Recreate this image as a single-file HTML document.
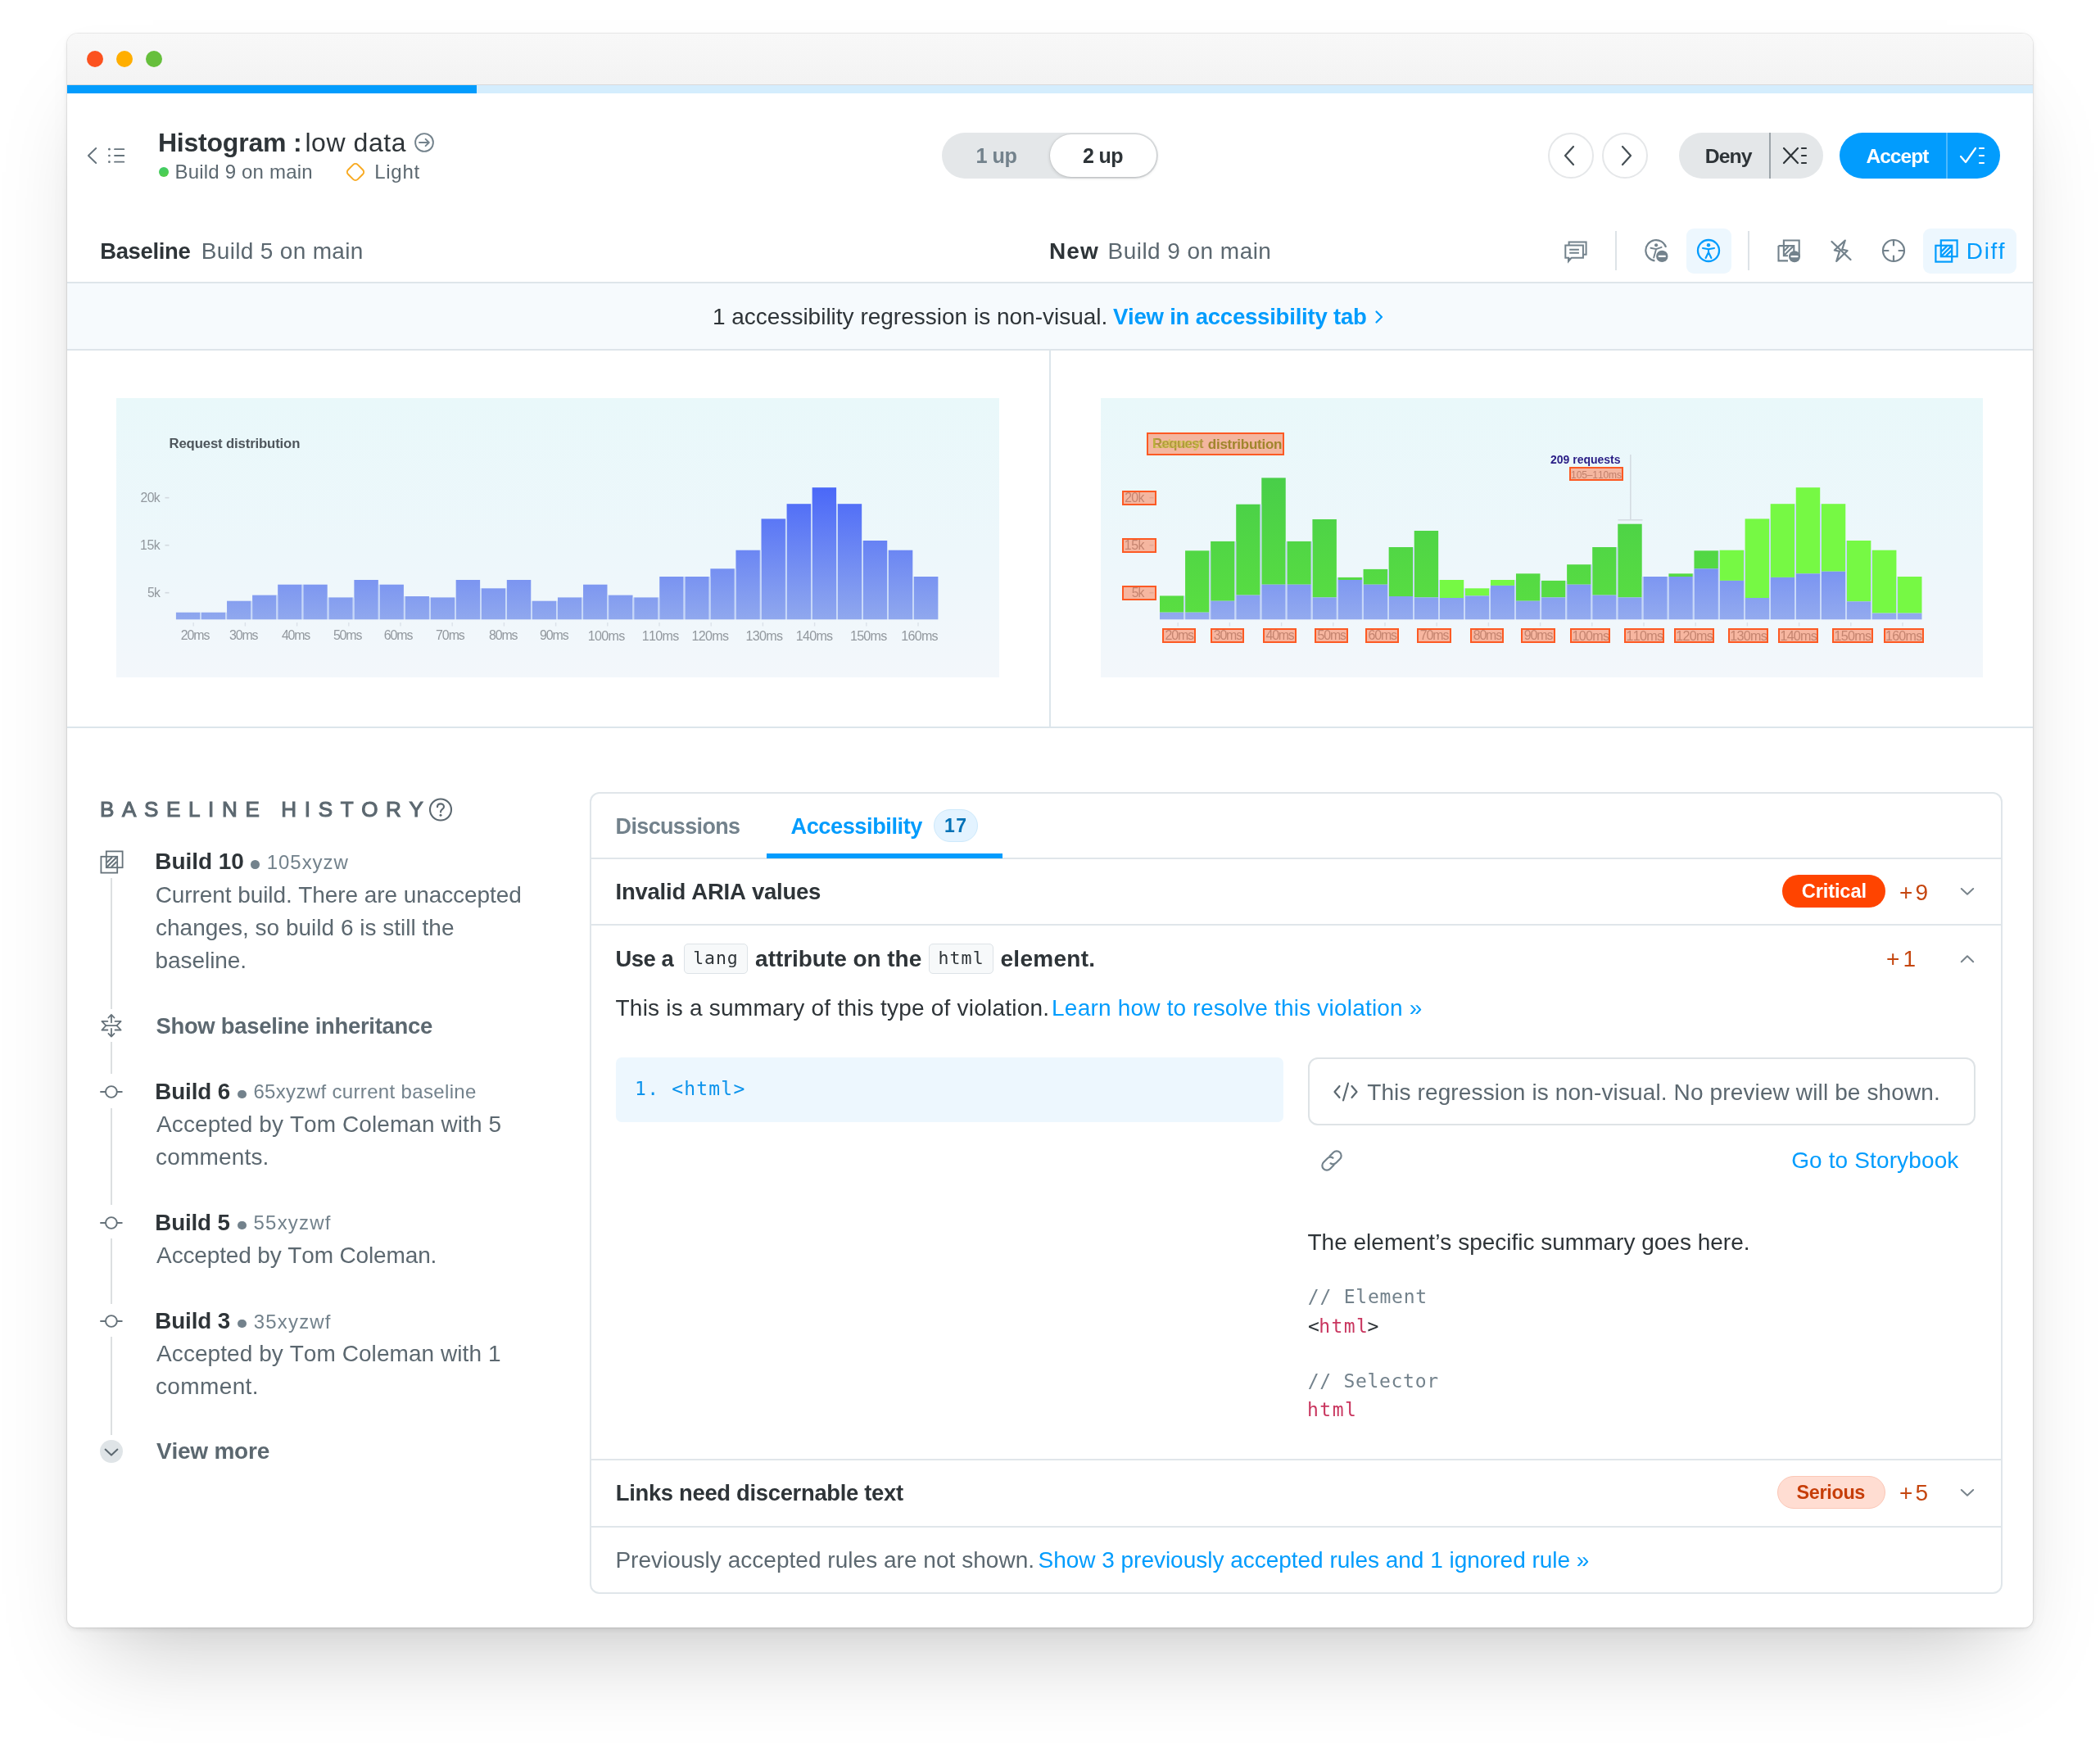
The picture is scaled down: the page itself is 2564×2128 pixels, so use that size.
<!DOCTYPE html>
<html lang="en"><head><meta charset="utf-8"><title>Histogram : low data</title>
<style>
html,body{margin:0;padding:0;background:#fff;}
body{width:2564px;height:2128px;overflow:hidden;font-family:"Liberation Sans",sans-serif;}
#page{will-change:transform;position:relative;width:2564px;height:2128px;overflow:hidden;font-kerning:none;font-variant-ligatures:none;}
.a{position:absolute;box-sizing:border-box;}
.t{position:absolute;white-space:pre;line-height:1;font-weight:400;}
.b{font-weight:700;}
.m{font-family:"DejaVu Sans Mono","Liberation Mono",monospace;}

</style></head>
<body>
<div id="page">
<div class="a" id="win" style="left:82px;top:41px;width:2400px;height:1946px;background:#fff;border-radius:13px 13px 11px 11px;box-shadow:0 0 0 1px rgba(0,0,0,.07),0 2px 7px rgba(0,0,0,.10),0 64px 110px -40px rgba(0,0,0,.21),0 14px 44px rgba(0,0,0,.03);"></div>
<div class="a" style="left:82.0px;top:41.0px;width:2400.0px;height:63.3px;background:linear-gradient(#f8f8f8,#f3f3f3);border-radius:13px 13px 0 0;border-bottom:1.5px solid #d9d9d9;"></div>
<div class="a" style="left:106.0px;top:62.0px;width:20.0px;height:20.0px;border-radius:50%;background:#FC521F;"></div>
<div class="a" style="left:142.0px;top:62.0px;width:20.0px;height:20.0px;border-radius:50%;background:#FFAE00;"></div>
<div class="a" style="left:178.0px;top:62.0px;width:20.0px;height:20.0px;border-radius:50%;background:#66BF3C;"></div>
<div class="a" style="left:82.0px;top:104.2px;width:2400.0px;height:9.8px;background:#D4EDFD;"></div>
<div class="a" style="left:82.0px;top:104.2px;width:500.0px;height:9.8px;background:#029CFD;"></div>
<svg class="a" style="left:104.0px;top:178.0px;" width="16" height="24" viewBox="0 0 16 24" fill="none"><path d="M13.2 3 L3.9 12 L13.2 21" stroke="#66737C" stroke-width="1.9" stroke-linecap="round" stroke-linejoin="round"/></svg>
<svg class="a" style="left:131.0px;top:179.0px;" width="23" height="22" viewBox="0 0 23 22" fill="none"><g stroke="#66737C" stroke-width="1.8" stroke-linecap="round"><path d="M9 3.2H20.3M9 11H20.3M9 18.7H20.3"/></g><g fill="#66737C"><circle cx="2.4" cy="3.2" r="1.35"/><circle cx="2.4" cy="11" r="1.35"/><circle cx="2.4" cy="18.7" r="1.35"/></g></svg>
<span class="t b" style="left:192.9px;top:157.6px;font-size:32px;color:#2E3438;letter-spacing:-0.21px;">Histogram :</span>
<span class="t" style="left:372.4px;top:157.6px;font-size:32px;color:#2E3438;letter-spacing:0.57px;">low data</span>
<svg class="a" style="left:505.0px;top:160.8px;" width="26" height="26" viewBox="0 0 26 26" fill="none"><circle cx="13" cy="13" r="10.9" stroke="#73828C" stroke-width="1.9"/><path d="M7 13H18.5M14.6 8.8L18.8 13L14.6 17.2" stroke="#73828C" stroke-width="1.9" stroke-linecap="round" stroke-linejoin="round"/></svg>
<div class="a" style="left:194.0px;top:203.8px;width:12.0px;height:12.0px;border-radius:50%;background:linear-gradient(160deg,#3DCB6A,#56CE45);"></div>
<span class="t" style="left:213.5px;top:197.6px;font-size:24px;color:#5C6870;letter-spacing:0.19px;">Build 9 on main</span>
<svg class="a" style="left:420.0px;top:195.8px;" width="28" height="28" viewBox="0 0 28 28" fill="none"><rect x="5.7" y="5.7" width="16.6" height="16.6" rx="4" transform="rotate(45 14 14)" stroke="#F8AA22" stroke-width="2"/></svg>
<span class="t" style="left:457.3px;top:197.6px;font-size:24px;color:#5C6870;letter-spacing:0.69px;">Light</span>
<div class="a" style="left:1150.0px;top:162.0px;width:264.0px;height:56.0px;border-radius:28px;background:#E4E7E9;"></div>
<div class="a" style="left:1282.0px;top:164.0px;width:130.0px;height:52.0px;border-radius:26px;background:#fff;box-shadow:0 1px 4px rgba(0,0,0,.18),0 0 0 1px rgba(0,0,0,.04);"></div>
<span class="t b" style="left:1191.5px;top:177.8px;font-size:25.23px;color:#73828C;letter-spacing:-0.51px;">1 up</span>
<span class="t b" style="left:1322.0px;top:177.9px;font-size:25.04px;color:#2E3438;letter-spacing:-0.63px;">2 up</span>
<div class="a" style="left:1890.0px;top:162.0px;width:56.0px;height:56.0px;border-radius:50%;border:2px solid #E5E7E9;background:#fff;"></div>
<svg class="a" style="left:1904.0px;top:173.0px;" width="24" height="34" viewBox="0 0 24 34" fill="none"><path d="M17 6 L7 17 L17 28" stroke="#454E54" stroke-width="2.2" stroke-linecap="round" stroke-linejoin="round"/></svg>
<div class="a" style="left:1956.0px;top:162.0px;width:56.0px;height:56.0px;border-radius:50%;border:2px solid #E5E7E9;background:#fff;"></div>
<svg class="a" style="left:1974.0px;top:173.0px;" width="24" height="34" viewBox="0 0 24 34" fill="none"><path d="M7 6 L17 17 L7 28" stroke="#454E54" stroke-width="2.2" stroke-linecap="round" stroke-linejoin="round"/></svg>
<div class="a" style="left:2050.0px;top:162.0px;width:176.0px;height:56.0px;border-radius:28px;background:#E4E7E9;"></div>
<div class="a" style="left:2160.0px;top:162.0px;width:2.0px;height:56.0px;background:#9CA4A9;"></div>
<span class="t b" style="left:2081.8px;top:178.5px;font-size:24.79px;color:#2E3438;letter-spacing:-0.97px;">Deny</span>
<svg class="a" style="left:2176.0px;top:179.0px;" width="32" height="22" viewBox="0 0 32 22" fill="none"><path d="M2 2L19 20M19 2L2 20" stroke="#2E3438" stroke-width="2.2" stroke-linecap="round"/><path d="M24 2H29M24 11H29M24 20H29" stroke="#2E3438" stroke-width="2.2" stroke-linecap="round"/></svg>
<div class="a" style="left:2246.0px;top:162.0px;width:196.0px;height:56.0px;border-radius:28px;background:#029CFD;"></div>
<div class="a" style="left:2376.0px;top:162.0px;width:2.0px;height:56.0px;background:#4DB9FD;"></div>
<span class="t b" style="left:2278.4px;top:178.6px;font-size:24.55px;color:#fff;letter-spacing:-0.96px;">Accept</span>
<svg class="a" style="left:2392.0px;top:179.0px;" width="32" height="22" viewBox="0 0 32 22" fill="none"><path d="M2 12L8 19L20 2" stroke="#fff" stroke-width="2.2" stroke-linecap="round" stroke-linejoin="round"/><path d="M25 2H30M25 11H30M25 20H30" stroke="#fff" stroke-width="2.2" stroke-linecap="round"/></svg>
<span class="t b" style="left:122.2px;top:292.8px;font-size:27.45px;color:#2E3438;letter-spacing:-0.32px;">Baseline</span>
<span class="t" style="left:245.8px;top:292.5px;font-size:28px;color:#5C6870;letter-spacing:0.32px;">Build 5 on main</span>
<span class="t b" style="left:1281.1px;top:292.5px;font-size:28px;color:#2E3438;letter-spacing:1.02px;">New</span>
<span class="t" style="left:1352.6px;top:292.5px;font-size:28px;color:#5C6870;letter-spacing:0.45px;">Build 9 on main</span>
<svg class="a" style="left:1908.0px;top:292.0px;" width="32" height="30" viewBox="0 0 32 30" fill="none"><g stroke="#73828C" stroke-width="2" stroke-linejoin="miter"><path d="M7.6 7V3.6H28.6V18.7H25.5"/><path d="M3.3 7.6H24.9V22.7H10.8L7 27V22.7H3.3Z" fill="#fff"/><path d="M8.2 12.7H19.9M8.2 16.7H19.9"/></g><path d="M6.3 22.7V28L11.3 22.7Z" fill="#73828C"/></svg>
<div class="a" style="left:1972.0px;top:282.0px;width:2.0px;height:48.0px;background:#DDE3E7;"></div>
<svg class="a" style="left:2006.0px;top:291.0px;" width="32" height="32" viewBox="0 0 32 32" fill="none"><path d="M28.08 10.88A12.7 12.7 0 1 0 14.45 27.4" stroke="#73828C" stroke-width="2.1"/><circle cx="16.1" cy="8.3" r="2.1" fill="#73828C"/><path d="M9.4 11.7L16.1 13.1L22.6 10.8M16.1 13.1L15 17L13.2 23.5" stroke="#73828C" stroke-width="1.9" stroke-linecap="round" stroke-linejoin="round"/><circle cx="23.3" cy="21.9" r="7.2" fill="#73828C"/><path d="M19.8 21.9H26.8" stroke="#fff" stroke-width="2.3" stroke-linecap="round"/></svg>
<div class="a" style="left:2059.0px;top:278.5px;width:55.0px;height:55.0px;border-radius:9px;background:#EDF7FE;"></div>
<svg class="a" style="left:2070.0px;top:290.0px;" width="32" height="32" viewBox="0 0 32 32" fill="none"><circle cx="16" cy="16" r="13" stroke="#029CFD" stroke-width="2.3"/><circle cx="16" cy="9.3" r="2.2" fill="#029CFD"/><path d="M9 13L16 14.3L23 13M16 14.3V18M16 18L12.6 25M16 18L19.4 25" stroke="#029CFD" stroke-width="2.1" stroke-linecap="round" stroke-linejoin="round"/></svg>
<div class="a" style="left:2134.0px;top:282.0px;width:2.0px;height:48.0px;background:#DDE3E7;"></div>
<svg class="a" style="left:2168.0px;top:290.0px;" width="32" height="32" viewBox="0 0 32 32" fill="none"><g stroke="#73828C" stroke-width="2.1"><path d="M9.9 9.5V3.5H28.7V22.3H27"/><path d="M3.5 10.1H22.3V17M15 28.4H3.5V10.1"/><path d="M9.9 9.5V22.3H15"/><path d="M10.5 21.5L21.5 10.8M10.5 16.2L15.6 11" stroke-width="2"/></g><circle cx="23" cy="23.2" r="7" fill="#73828C"/><path d="M19.5 23.2H26.5" stroke="#fff" stroke-width="2.3" stroke-linecap="round"/></svg>
<svg class="a" style="left:2232.0px;top:290.0px;" width="32" height="32" viewBox="0 0 32 32" fill="none"><g stroke="#73828C" stroke-width="2.2" stroke-linecap="round" stroke-linejoin="round"><path d="M20.8 3.5L7.8 15.5L14 16.8L10.2 29L23.6 16L17.2 14.6Z"/><path d="M4.5 5L27.5 27"/></g></svg>
<svg class="a" style="left:2296.0px;top:290.0px;" width="32" height="32" viewBox="0 0 32 32" fill="none"><g stroke="#73828C" stroke-width="2.2" stroke-linecap="round"><circle cx="16" cy="16" r="13"/><path d="M16 3V9.5M16 22.5V29M3 16H9.5M22.5 16H29"/></g></svg>
<div class="a" style="left:2348.0px;top:278.5px;width:114.0px;height:55.0px;border-radius:9px;background:#EDF7FE;"></div>
<svg class="a" style="left:2361.5px;top:291.5px;" width="29" height="29" viewBox="0 0 29 29" fill="none"><g stroke="#029CFD" stroke-width="2.2"><rect x="7.8" y="1.4" width="19.8" height="19.8"/><rect x="1.4" y="7.8" width="19.8" height="19.8"/><path d="M8.5 20.5L20.5 8.5M8.5 15L15 8.5M14 20.5L20.5 14" stroke-width="2.4"/></g></svg>
<span class="t" style="left:2400.8px;top:292.5px;font-size:28px;color:#029CFD;letter-spacing:1.61px;">Diff</span>
<div class="a" style="left:82.0px;top:344.0px;width:2400.0px;height:84.0px;background:#F6FAFD;border-top:2px solid #DEE5EA;border-bottom:2px solid #DEE5EA;"></div>
<span class="t" style="left:869.9px;top:372.7px;font-size:28px;color:#2E3438;letter-spacing:0.00px;">1 accessibility regression is non-visual.</span>
<span class="t b" style="left:1358.9px;top:372.9px;font-size:27.54px;color:#029CFD;letter-spacing:-0.22px;">View in accessibility tab</span>
<svg class="a" style="left:1678.0px;top:378.0px;" width="12" height="18" viewBox="0 0 12 18" fill="none"><path d="M2.5 2.5L9 9L2.5 15.5" stroke="#029CFD" stroke-width="2.2" stroke-linecap="round" stroke-linejoin="round"/></svg>
<div class="a" style="left:82.0px;top:886.5px;width:2400.0px;height:2.0px;background:#DCE5EB;"></div>
<div class="a" style="left:1281.0px;top:428.0px;width:2.0px;height:459.0px;background:#DCE5EB;"></div>
<div class="a" style="left:142.0px;top:486.0px;width:1077.5px;height:341.0px;background:linear-gradient(180deg,#E9F8FA 0%,#EDF7FB 55%,#F3F7FB 100%);"></div>
<svg class="a" style="left:142.0px;top:486.0px;" width="1078" height="341" viewBox="0 0 1078 341" fill="none"><defs><linearGradient id="gb142" gradientUnits="userSpaceOnUse" x1="0" y1="109" x2="0" y2="270.29999999999995"><stop offset="0" stop-color="#4A68F8"/><stop offset="1" stop-color="#90A8EE"/></linearGradient><linearGradient id="gd142" gradientUnits="userSpaceOnUse" x1="0" y1="94" x2="0" y2="270.29999999999995"><stop offset="0" stop-color="#48CE49"/><stop offset="1" stop-color="#5ADF41"/></linearGradient></defs><rect x="93.5" y="274" width="1.4" height="4.5" fill="#DBE1E9"/><rect x="156.7" y="274" width="1.4" height="4.5" fill="#DBE1E9"/><rect x="219.9" y="274" width="1.4" height="4.5" fill="#DBE1E9"/><rect x="283.1" y="274" width="1.4" height="4.5" fill="#DBE1E9"/><rect x="346.3" y="274" width="1.4" height="4.5" fill="#DBE1E9"/><rect x="409.5" y="274" width="1.4" height="4.5" fill="#DBE1E9"/><rect x="472.7" y="274" width="1.4" height="4.5" fill="#DBE1E9"/><rect x="535.9" y="274" width="1.4" height="4.5" fill="#DBE1E9"/><rect x="599.1" y="274" width="1.4" height="4.5" fill="#DBE1E9"/><rect x="662.3" y="274" width="1.4" height="4.5" fill="#DBE1E9"/><rect x="725.5" y="274" width="1.4" height="4.5" fill="#DBE1E9"/><rect x="788.7" y="274" width="1.4" height="4.5" fill="#DBE1E9"/><rect x="851.9" y="274" width="1.4" height="4.5" fill="#DBE1E9"/><rect x="915.1" y="274" width="1.4" height="4.5" fill="#DBE1E9"/><rect x="978.3" y="274" width="1.4" height="4.5" fill="#DBE1E9"/><rect x="59.5" y="120.9" width="5" height="1.6" fill="#D3DAE0"/><rect x="59.5" y="178.9" width="5" height="1.6" fill="#D3DAE0"/><rect x="59.5" y="236.9" width="5" height="1.6" fill="#D3DAE0"/><rect x="72.90" y="261.7" width="29.45" height="8.6" fill="url(#gb142)"/><rect x="103.97" y="261.7" width="29.45" height="8.6" fill="url(#gb142)"/><rect x="135.04" y="247.7" width="29.45" height="22.6" fill="url(#gb142)"/><rect x="166.11" y="240.6" width="29.45" height="29.7" fill="url(#gb142)"/><rect x="197.18" y="227.7" width="29.45" height="42.6" fill="url(#gb142)"/><rect x="228.25" y="227.7" width="29.45" height="42.6" fill="url(#gb142)"/><rect x="259.32" y="243.4" width="29.45" height="26.9" fill="url(#gb142)"/><rect x="290.39" y="222.0" width="29.45" height="48.3" fill="url(#gb142)"/><rect x="321.46" y="227.7" width="29.45" height="42.6" fill="url(#gb142)"/><rect x="352.53" y="242.0" width="29.45" height="28.3" fill="url(#gb142)"/><rect x="383.60" y="243.4" width="29.45" height="26.9" fill="url(#gb142)"/><rect x="414.67" y="222.0" width="29.45" height="48.3" fill="url(#gb142)"/><rect x="445.74" y="232.3" width="29.45" height="38.0" fill="url(#gb142)"/><rect x="476.81" y="222.0" width="29.45" height="48.3" fill="url(#gb142)"/><rect x="507.88" y="247.7" width="29.45" height="22.6" fill="url(#gb142)"/><rect x="538.95" y="243.4" width="29.45" height="26.9" fill="url(#gb142)"/><rect x="570.02" y="227.7" width="29.45" height="42.6" fill="url(#gb142)"/><rect x="601.09" y="240.6" width="29.45" height="29.7" fill="url(#gb142)"/><rect x="632.16" y="243.4" width="29.45" height="26.9" fill="url(#gb142)"/><rect x="663.23" y="218.0" width="29.45" height="52.3" fill="url(#gb142)"/><rect x="694.30" y="218.0" width="29.45" height="52.3" fill="url(#gb142)"/><rect x="725.37" y="208.3" width="29.45" height="62.0" fill="url(#gb142)"/><rect x="756.44" y="185.7" width="29.45" height="84.6" fill="url(#gb142)"/><rect x="787.51" y="147.4" width="29.45" height="122.9" fill="url(#gb142)"/><rect x="818.58" y="129.2" width="29.45" height="141.1" fill="url(#gb142)"/><rect x="849.65" y="109.2" width="29.45" height="161.1" fill="url(#gb142)"/><rect x="880.72" y="129.2" width="29.45" height="141.1" fill="url(#gb142)"/><rect x="911.79" y="174.0" width="29.45" height="96.3" fill="url(#gb142)"/><rect x="942.86" y="185.7" width="29.45" height="84.6" fill="url(#gb142)"/><rect x="973.93" y="218.0" width="29.45" height="52.3" fill="url(#gb142)"/><path fill="none" stroke="#C6D7F8" stroke-width="1.7" d="M103.16 270.3v-8.6M134.23 270.3v-8.6M165.30 270.3v-22.6M196.37 270.3v-29.7M227.44 270.3v-42.6M258.51 270.3v-26.9M289.58 270.3v-26.9M320.65 270.3v-42.6M351.72 270.3v-28.3M382.79 270.3v-26.9M413.86 270.3v-26.9M444.93 270.3v-38.0M476.00 270.3v-38.0M507.07 270.3v-22.6M538.14 270.3v-22.6M569.21 270.3v-26.9M600.28 270.3v-29.7M631.35 270.3v-26.9M662.42 270.3v-26.9M693.49 270.3v-52.3M724.56 270.3v-52.3M755.63 270.3v-62.0M786.70 270.3v-84.6M817.77 270.3v-122.9M848.84 270.3v-141.1M879.91 270.3v-141.1M910.98 270.3v-96.3M942.05 270.3v-84.6M973.12 270.3v-52.3"/></svg>
<span class="t b" style="left:206.5px;top:533.6px;font-size:16.73px;color:#4E565C;letter-spacing:-0.14px;">Request distribution</span>
<span class="t" style="left:171.5px;top:600.3px;font-size:15.76px;color:#92989E;letter-spacing:-0.58px;">20k</span>
<span class="t" style="left:171.1px;top:658.3px;font-size:15.88px;color:#92989E;letter-spacing:-0.48px;">15k</span>
<span class="t" style="left:180.0px;top:716.4px;font-size:15.7px;color:#92989E;letter-spacing:-0.81px;">5k</span>
<span class="t" style="left:220.7px;top:768.0px;font-size:15.91px;color:#92989E;letter-spacing:-1.08px;">20ms</span>
<span class="t" style="left:280.0px;top:768.1px;font-size:15.88px;color:#92989E;letter-spacing:-1.14px;">30ms</span>
<span class="t" style="left:343.9px;top:768.1px;font-size:15.86px;color:#92989E;letter-spacing:-1.20px;">40ms</span>
<span class="t" style="left:406.9px;top:768.1px;font-size:15.89px;color:#92989E;letter-spacing:-1.12px;">50ms</span>
<span class="t" style="left:468.7px;top:768.0px;font-size:15.91px;color:#92989E;letter-spacing:-1.08px;">60ms</span>
<span class="t" style="left:532.1px;top:768.0px;font-size:15.91px;color:#92989E;letter-spacing:-1.08px;">70ms</span>
<span class="t" style="left:597.0px;top:768.1px;font-size:15.89px;color:#92989E;letter-spacing:-1.12px;">80ms</span>
<span class="t" style="left:659.1px;top:768.0px;font-size:15.9px;color:#92989E;letter-spacing:-1.10px;">90ms</span>
<span class="t" style="left:717.8px;top:767.5px;font-size:16.09px;color:#92989E;letter-spacing:-0.70px;">100ms</span>
<span class="t" style="left:783.8px;top:767.5px;font-size:16.09px;color:#92989E;letter-spacing:-0.70px;">110ms</span>
<span class="t" style="left:844.6px;top:767.5px;font-size:16.09px;color:#92989E;letter-spacing:-0.70px;">120ms</span>
<span class="t" style="left:910.6px;top:767.5px;font-size:16.09px;color:#92989E;letter-spacing:-0.70px;">130ms</span>
<span class="t" style="left:971.7px;top:767.5px;font-size:16.09px;color:#92989E;letter-spacing:-0.70px;">140ms</span>
<span class="t" style="left:1037.9px;top:767.5px;font-size:16.09px;color:#92989E;letter-spacing:-0.70px;">150ms</span>
<span class="t" style="left:1100.2px;top:767.5px;font-size:16.09px;color:#92989E;letter-spacing:-0.70px;">160ms</span>
<div class="a" style="left:1343.7px;top:486.0px;width:1077.5px;height:341.0px;background:linear-gradient(180deg,#E9F8FA 0%,#EDF7FB 55%,#F3F7FB 100%);"></div>
<svg class="a" style="left:1343.7px;top:486.0px;" width="1078" height="341" viewBox="0 0 1078 341" fill="none"><defs><linearGradient id="gb1343" gradientUnits="userSpaceOnUse" x1="0" y1="109" x2="0" y2="270.29999999999995"><stop offset="0" stop-color="#4A68F8"/><stop offset="1" stop-color="#90A8EE"/></linearGradient><linearGradient id="gd1343" gradientUnits="userSpaceOnUse" x1="0" y1="94" x2="0" y2="270.29999999999995"><stop offset="0" stop-color="#48CE49"/><stop offset="1" stop-color="#5ADF41"/></linearGradient></defs><rect x="93.5" y="274" width="1.4" height="4.5" fill="#DBE1E9"/><rect x="156.7" y="274" width="1.4" height="4.5" fill="#DBE1E9"/><rect x="219.9" y="274" width="1.4" height="4.5" fill="#DBE1E9"/><rect x="283.1" y="274" width="1.4" height="4.5" fill="#DBE1E9"/><rect x="346.3" y="274" width="1.4" height="4.5" fill="#DBE1E9"/><rect x="409.5" y="274" width="1.4" height="4.5" fill="#DBE1E9"/><rect x="472.7" y="274" width="1.4" height="4.5" fill="#DBE1E9"/><rect x="535.9" y="274" width="1.4" height="4.5" fill="#DBE1E9"/><rect x="599.1" y="274" width="1.4" height="4.5" fill="#DBE1E9"/><rect x="662.3" y="274" width="1.4" height="4.5" fill="#DBE1E9"/><rect x="725.5" y="274" width="1.4" height="4.5" fill="#DBE1E9"/><rect x="788.7" y="274" width="1.4" height="4.5" fill="#DBE1E9"/><rect x="851.9" y="274" width="1.4" height="4.5" fill="#DBE1E9"/><rect x="915.1" y="274" width="1.4" height="4.5" fill="#DBE1E9"/><rect x="978.3" y="274" width="1.4" height="4.5" fill="#DBE1E9"/><rect x="59.5" y="120.9" width="5" height="1.6" fill="#D3DAE0"/><rect x="59.5" y="178.9" width="5" height="1.6" fill="#D3DAE0"/><rect x="59.5" y="236.9" width="5" height="1.6" fill="#D3DAE0"/><rect x="72.00" y="241.4" width="29.45" height="20.3" fill="url(#gd1343)"/><rect x="72.00" y="261.7" width="29.45" height="8.6" fill="url(#gb1343)" opacity="0.97"/><rect x="103.07" y="186.3" width="29.45" height="75.4" fill="url(#gd1343)"/><rect x="103.07" y="261.7" width="29.45" height="8.6" fill="url(#gb1343)" opacity="0.97"/><rect x="134.14" y="174.9" width="29.45" height="72.8" fill="url(#gd1343)"/><rect x="134.14" y="247.7" width="29.45" height="22.6" fill="url(#gb1343)" opacity="0.97"/><rect x="165.21" y="129.7" width="29.45" height="110.9" fill="url(#gd1343)"/><rect x="165.21" y="240.6" width="29.45" height="29.7" fill="url(#gb1343)" opacity="0.97"/><rect x="196.28" y="97.4" width="29.45" height="130.3" fill="url(#gd1343)"/><rect x="196.28" y="227.7" width="29.45" height="42.6" fill="url(#gb1343)" opacity="0.97"/><rect x="227.35" y="174.9" width="29.45" height="52.8" fill="url(#gd1343)"/><rect x="227.35" y="227.7" width="29.45" height="42.6" fill="url(#gb1343)" opacity="0.97"/><rect x="258.42" y="148.0" width="29.45" height="95.4" fill="url(#gd1343)"/><rect x="258.42" y="243.4" width="29.45" height="26.9" fill="url(#gb1343)" opacity="0.97"/><rect x="289.49" y="218.9" width="29.45" height="3.1" fill="url(#gd1343)"/><rect x="289.49" y="222.0" width="29.45" height="48.3" fill="url(#gb1343)" opacity="0.97"/><rect x="320.56" y="208.9" width="29.45" height="18.8" fill="url(#gd1343)"/><rect x="320.56" y="227.7" width="29.45" height="42.6" fill="url(#gb1343)" opacity="0.97"/><rect x="351.63" y="182.0" width="29.45" height="60.0" fill="url(#gd1343)"/><rect x="351.63" y="242.0" width="29.45" height="28.3" fill="url(#gb1343)" opacity="0.97"/><rect x="382.70" y="162.0" width="29.45" height="81.4" fill="url(#gd1343)"/><rect x="382.70" y="243.4" width="29.45" height="26.9" fill="url(#gb1343)" opacity="0.97"/><rect x="413.77" y="222.0" width="29.45" height="22.0" fill="#76F944"/><rect x="413.77" y="244.0" width="29.45" height="26.3" fill="url(#gb1343)" opacity="0.97"/><rect x="444.84" y="232.3" width="29.45" height="9.1" fill="#76F944"/><rect x="444.84" y="241.4" width="29.45" height="28.9" fill="url(#gb1343)" opacity="0.97"/><rect x="475.91" y="222.0" width="29.45" height="6.9" fill="#76F944"/><rect x="475.91" y="228.9" width="29.45" height="41.4" fill="url(#gb1343)" opacity="0.97"/><rect x="506.98" y="214.3" width="29.45" height="33.4" fill="url(#gd1343)"/><rect x="506.98" y="247.7" width="29.45" height="22.6" fill="url(#gb1343)" opacity="0.97"/><rect x="538.05" y="222.9" width="29.45" height="20.5" fill="url(#gd1343)"/><rect x="538.05" y="243.4" width="29.45" height="26.9" fill="url(#gb1343)" opacity="0.97"/><rect x="569.12" y="203.2" width="29.45" height="24.5" fill="url(#gd1343)"/><rect x="569.12" y="227.7" width="29.45" height="42.6" fill="url(#gb1343)" opacity="0.97"/><rect x="600.19" y="182.0" width="29.45" height="58.6" fill="url(#gd1343)"/><rect x="600.19" y="240.6" width="29.45" height="29.7" fill="url(#gb1343)" opacity="0.97"/><rect x="631.26" y="153.7" width="29.45" height="89.7" fill="url(#gd1343)"/><rect x="631.26" y="243.4" width="29.45" height="26.9" fill="url(#gb1343)" opacity="0.97"/><rect x="662.33" y="218.0" width="29.45" height="52.3" fill="url(#gb1343)" opacity="0.97"/><rect x="693.40" y="214.3" width="29.45" height="3.7" fill="url(#gd1343)"/><rect x="693.40" y="218.0" width="29.45" height="52.3" fill="url(#gb1343)" opacity="0.97"/><rect x="724.47" y="186.3" width="29.45" height="22.0" fill="url(#gd1343)"/><rect x="724.47" y="208.3" width="29.45" height="62.0" fill="url(#gb1343)" opacity="0.97"/><rect x="755.54" y="185.7" width="29.45" height="37.2" fill="#76F944"/><rect x="755.54" y="222.9" width="29.45" height="47.4" fill="url(#gb1343)" opacity="0.97"/><rect x="786.61" y="147.4" width="29.45" height="96.6" fill="#76F944"/><rect x="786.61" y="244.0" width="29.45" height="26.3" fill="url(#gb1343)" opacity="0.97"/><rect x="817.68" y="129.2" width="29.45" height="89.7" fill="#76F944"/><rect x="817.68" y="218.9" width="29.45" height="51.4" fill="url(#gb1343)" opacity="0.97"/><rect x="848.75" y="109.2" width="29.45" height="105.1" fill="#76F944"/><rect x="848.75" y="214.3" width="29.45" height="56.0" fill="url(#gb1343)" opacity="0.97"/><rect x="879.82" y="129.2" width="29.45" height="82.5" fill="#76F944"/><rect x="879.82" y="211.7" width="29.45" height="58.6" fill="url(#gb1343)" opacity="0.97"/><rect x="910.89" y="174.0" width="29.45" height="74.3" fill="#76F944"/><rect x="910.89" y="248.3" width="29.45" height="22.0" fill="url(#gb1343)" opacity="0.97"/><rect x="941.96" y="185.7" width="29.45" height="76.9" fill="#76F944"/><rect x="941.96" y="262.6" width="29.45" height="7.7" fill="url(#gb1343)" opacity="0.97"/><rect x="973.03" y="218.0" width="29.45" height="44.6" fill="#76F944"/><rect x="973.03" y="262.6" width="29.45" height="7.7" fill="url(#gb1343)" opacity="0.97"/><path fill="none" stroke="#C6D7F8" stroke-width="1.7" d="M102.26 270.3v-28.9M133.33 270.3v-84.0M164.40 270.3v-95.4M195.47 270.3v-140.6M226.54 270.3v-95.4M257.61 270.3v-95.4M288.68 270.3v-51.4M319.75 270.3v-51.4M350.82 270.3v-61.4M381.89 270.3v-88.3M412.96 270.3v-48.3M444.03 270.3v-38.0M475.10 270.3v-38.0M506.17 270.3v-48.3M537.24 270.3v-47.4M568.31 270.3v-47.4M599.38 270.3v-67.1M630.45 270.3v-88.3M661.52 270.3v-52.3M692.59 270.3v-52.3M723.66 270.3v-56.0M754.73 270.3v-84.0M785.80 270.3v-84.6M816.87 270.3v-122.9M847.94 270.3v-141.1M879.01 270.3v-141.1M910.08 270.3v-96.3M941.15 270.3v-84.6M972.22 270.3v-52.3"/><rect x="646.0" y="69" width="1.6" height="79" fill="#D5DCE2"/><rect x="631.5" y="148" width="30" height="1.6" fill="#D5DCE2"/></svg>
<span class="t" style="left:1373.2px;top:600.3px;font-size:15.76px;color:#92989E;letter-spacing:-0.58px;">20k</span>
<span class="t" style="left:1372.8px;top:658.3px;font-size:15.88px;color:#92989E;letter-spacing:-0.48px;">15k</span>
<span class="t" style="left:1381.7px;top:716.4px;font-size:15.7px;color:#92989E;letter-spacing:-0.81px;">5k</span>
<span class="t" style="left:1422.4px;top:768.0px;font-size:15.91px;color:#92989E;letter-spacing:-1.08px;">20ms</span>
<span class="t" style="left:1481.7px;top:768.1px;font-size:15.88px;color:#92989E;letter-spacing:-1.14px;">30ms</span>
<span class="t" style="left:1545.6px;top:768.1px;font-size:15.86px;color:#92989E;letter-spacing:-1.20px;">40ms</span>
<span class="t" style="left:1608.6px;top:768.1px;font-size:15.89px;color:#92989E;letter-spacing:-1.12px;">50ms</span>
<span class="t" style="left:1670.4px;top:768.0px;font-size:15.91px;color:#92989E;letter-spacing:-1.08px;">60ms</span>
<span class="t" style="left:1733.8px;top:768.0px;font-size:15.91px;color:#92989E;letter-spacing:-1.08px;">70ms</span>
<span class="t" style="left:1798.7px;top:768.1px;font-size:15.89px;color:#92989E;letter-spacing:-1.12px;">80ms</span>
<span class="t" style="left:1860.8px;top:768.0px;font-size:15.9px;color:#92989E;letter-spacing:-1.10px;">90ms</span>
<span class="t" style="left:1919.5px;top:767.5px;font-size:16.09px;color:#92989E;letter-spacing:-0.70px;">100ms</span>
<span class="t" style="left:1985.5px;top:767.5px;font-size:16.09px;color:#92989E;letter-spacing:-0.70px;">110ms</span>
<span class="t" style="left:2046.3px;top:767.5px;font-size:16.09px;color:#92989E;letter-spacing:-0.70px;">120ms</span>
<span class="t" style="left:2112.3px;top:767.5px;font-size:16.09px;color:#92989E;letter-spacing:-0.70px;">130ms</span>
<span class="t" style="left:2173.4px;top:767.5px;font-size:16.09px;color:#92989E;letter-spacing:-0.70px;">140ms</span>
<span class="t" style="left:2239.6px;top:767.5px;font-size:16.09px;color:#92989E;letter-spacing:-0.70px;">150ms</span>
<span class="t" style="left:2301.9px;top:767.5px;font-size:16.09px;color:#92989E;letter-spacing:-0.70px;">160ms</span>
<div class="a" style="left:1400.3px;top:528.1px;width:167.4px;height:27.6px;border:2px solid #FC5A24;background:rgba(252,110,60,.48);"></div>
<span class="t b" style="left:1407.1px;top:534.4px;font-size:16.67px;color:#A48E2E;letter-spacing:-0.54px;opacity:.85;">Request</span>
<span class="t b" style="left:1407.1px;top:534.4px;font-size:16.53px;color:#C4C838;letter-spacing:-0.60px;opacity:.55;">Latency</span>
<span class="t b" style="left:1474.8px;top:534.2px;font-size:16.99px;color:#A0852C;letter-spacing:-0.25px;">distribution</span>
<div class="a" style="left:1370.3px;top:598.6px;width:41.4px;height:18.8px;border:2px solid #FC5A24;background:rgba(252,110,60,.48);"></div>
<div class="a" style="left:1370.3px;top:656.6px;width:41.4px;height:18.8px;border:2px solid #FC5A24;background:rgba(252,110,60,.48);"></div>
<div class="a" style="left:1370.3px;top:714.6px;width:41.4px;height:18.8px;border:2px solid #FC5A24;background:rgba(252,110,60,.48);"></div>
<div class="a" style="left:1419.0px;top:766.6px;width:41.2px;height:18.8px;border:2px solid #FC5A24;background:rgba(252,110,60,.48);"></div>
<div class="a" style="left:1478.1px;top:766.6px;width:41.2px;height:18.8px;border:2px solid #FC5A24;background:rgba(252,110,60,.48);"></div>
<div class="a" style="left:1541.8px;top:766.6px;width:41.2px;height:18.8px;border:2px solid #FC5A24;background:rgba(252,110,60,.48);"></div>
<div class="a" style="left:1605.1px;top:766.6px;width:41.2px;height:18.8px;border:2px solid #FC5A24;background:rgba(252,110,60,.48);"></div>
<div class="a" style="left:1667.0px;top:766.6px;width:41.2px;height:18.8px;border:2px solid #FC5A24;background:rgba(252,110,60,.48);"></div>
<div class="a" style="left:1730.4px;top:766.6px;width:41.2px;height:18.8px;border:2px solid #FC5A24;background:rgba(252,110,60,.48);"></div>
<div class="a" style="left:1795.2px;top:766.6px;width:41.2px;height:18.8px;border:2px solid #FC5A24;background:rgba(252,110,60,.48);"></div>
<div class="a" style="left:1857.4px;top:766.6px;width:41.2px;height:18.8px;border:2px solid #FC5A24;background:rgba(252,110,60,.48);"></div>
<div class="a" style="left:1917.2px;top:766.6px;width:49.3px;height:18.8px;border:2px solid #FC5A24;background:rgba(252,110,60,.48);"></div>
<div class="a" style="left:1983.2px;top:766.6px;width:49.3px;height:18.8px;border:2px solid #FC5A24;background:rgba(252,110,60,.48);"></div>
<div class="a" style="left:2044.1px;top:766.6px;width:49.3px;height:18.8px;border:2px solid #FC5A24;background:rgba(252,110,60,.48);"></div>
<div class="a" style="left:2110.1px;top:766.6px;width:49.3px;height:18.8px;border:2px solid #FC5A24;background:rgba(252,110,60,.48);"></div>
<div class="a" style="left:2171.2px;top:766.6px;width:49.3px;height:18.8px;border:2px solid #FC5A24;background:rgba(252,110,60,.48);"></div>
<div class="a" style="left:2237.3px;top:766.6px;width:49.3px;height:18.8px;border:2px solid #FC5A24;background:rgba(252,110,60,.48);"></div>
<div class="a" style="left:2299.7px;top:766.6px;width:49.3px;height:18.8px;border:2px solid #FC5A24;background:rgba(252,110,60,.48);"></div>
<span class="t b" style="left:1893.0px;top:554.4px;font-size:14px;color:#2A1E86;letter-spacing:-0.01px;">209 requests</span>
<span class="t" style="left:1918.1px;top:573.5px;font-size:12px;color:#8A8F96;letter-spacing:-0.11px;">105–110ms</span>
<div class="a" style="left:1916.3px;top:570.3px;width:65.4px;height:17.1px;border:2px solid #FC5A24;background:rgba(252,110,60,.48);"></div>
<span class="t" style="left:121.9px;top:974.9px;font-size:26px;color:#5C6870;letter-spacing:9.67px;-webkit-text-stroke:1.1px #5C6870;">BASELINE HISTORY</span>
<svg class="a" style="left:523.0px;top:974.0px;" width="30" height="30" viewBox="0 0 30 30" fill="none"><circle cx="15" cy="14.5" r="13" stroke="#5C6870" stroke-width="2.1"/><path d="M11 11.3C11 8.8 12.8 7.4 15 7.4C17.3 7.4 19 8.9 19 10.9C19 12.7 17.9 13.5 16.6 14.4C15.5 15.2 15 15.9 15 17.4" stroke="#5C6870" stroke-width="2.1" stroke-linecap="round"/><circle cx="15" cy="21.3" r="1.5" fill="#5C6870"/></svg>
<svg class="a" style="left:121.5px;top:1038.3px;" width="29" height="29" viewBox="0 0 29 29" fill="none"><g stroke="#66727A" stroke-width="1.8"><rect x="7.8" y="1.4" width="19.8" height="19.8"/><rect x="1.4" y="7.8" width="19.8" height="19.8"/><path d="M8.5 20.5L20.5 8.5M8.5 15L15 8.5M14 20.5L20.5 14" stroke-width="2"/></g></svg>
<div class="a" style="left:135.0px;top:1072.0px;width:2.0px;height:160.0px;background:#DCDFE1;"></div>
<span class="t b" style="left:189.3px;top:1038.0px;font-size:28px;color:#2E3438;letter-spacing:-0.05px;">Build 10</span>
<div class="a" style="left:306.0px;top:1050.1px;width:10.6px;height:10.6px;border-radius:50%;background:#73828C;"></div>
<span class="t" style="left:325.8px;top:1041.0px;font-size:24px;color:#73828C;letter-spacing:0.94px;">105xyzw</span>
<span class="t" style="left:189.7px;top:1079.2px;font-size:28px;color:#5C6870;letter-spacing:-0.08px;">Current build. There are unaccepted</span>
<span class="t" style="left:190.0px;top:1119.4px;font-size:28px;color:#5C6870;letter-spacing:0.01px;">changes, so build 6 is still the</span>
<span class="t" style="left:189.4px;top:1159.3px;font-size:28px;color:#5C6870;letter-spacing:-0.04px;">baseline.</span>
<svg class="a" style="left:116.0px;top:1232.0px;" width="40" height="40" viewBox="0 0 40 40" fill="none"><g stroke="#66727A" stroke-width="1.8" stroke-linecap="round" stroke-linejoin="round"><path d="M19.95 16.3V6.9M16.4 10.5L19.95 6.8L23.5 10.5M19.95 24V33.5M16.4 29.9L19.95 33.6L23.5 29.9"/><path d="M13.5 20.2H26.4"/><path d="M15.4 14.9H8.4L13.4 20.2L8.4 25.5H15.4M24.5 14.9H31.6L26.5 20.2L31.6 25.5H24.5"/></g></svg>
<span class="t b" style="left:190.4px;top:1238.8px;font-size:27.45px;color:#5C6870;letter-spacing:-0.28px;">Show baseline inheritance</span>
<div class="a" style="left:135.0px;top:1272.4px;width:2.0px;height:39.0px;background:#DCDFE1;"></div>
<svg class="a" style="left:121.0px;top:1322.8px;" width="30" height="20" viewBox="0 0 30 20" fill="none"><circle cx="14.9" cy="10" r="6.9" stroke="#66727A" stroke-width="1.9"/><path d="M2 10H8M21.8 10H27.8" stroke="#66727A" stroke-width="1.9" stroke-linecap="round"/></svg>
<span class="t b" style="left:189.3px;top:1319.2px;font-size:27.78px;color:#2E3438;letter-spacing:-0.12px;">Build 6</span>
<div class="a" style="left:290.0px;top:1330.5px;width:10.6px;height:10.6px;border-radius:50%;background:#73828C;"></div>
<span class="t" style="left:309.4px;top:1321.4px;font-size:24px;color:#73828C;letter-spacing:0.34px;">65xyzwf current baseline</span>
<span class="t" style="left:191.1px;top:1358.6px;font-size:28px;color:#5C6870;letter-spacing:0.08px;">Accepted by Tom Coleman with 5</span>
<span class="t" style="left:190.0px;top:1398.5px;font-size:28px;color:#5C6870;letter-spacing:0.18px;">comments.</span>
<div class="a" style="left:135.0px;top:1352.6px;width:2.0px;height:118.8px;background:#DCDFE1;"></div>
<svg class="a" style="left:121.0px;top:1482.8px;" width="30" height="20" viewBox="0 0 30 20" fill="none"><circle cx="14.9" cy="10" r="6.9" stroke="#66727A" stroke-width="1.9"/><path d="M2 10H8M21.8 10H27.8" stroke="#66727A" stroke-width="1.9" stroke-linecap="round"/></svg>
<span class="t b" style="left:189.3px;top:1479.1px;font-size:27.73px;color:#2E3438;letter-spacing:-0.14px;">Build 5</span>
<div class="a" style="left:290.0px;top:1490.5px;width:10.6px;height:10.6px;border-radius:50%;background:#73828C;"></div>
<span class="t" style="left:309.6px;top:1481.4px;font-size:24px;color:#73828C;letter-spacing:1.18px;">55xyzwf</span>
<span class="t" style="left:191.1px;top:1518.9px;font-size:28px;color:#5C6870;letter-spacing:-0.14px;">Accepted by Tom Coleman.</span>
<div class="a" style="left:135.0px;top:1512.0px;width:2.0px;height:79.8px;background:#DCDFE1;"></div>
<svg class="a" style="left:121.0px;top:1602.5px;" width="30" height="20" viewBox="0 0 30 20" fill="none"><circle cx="14.9" cy="10" r="6.9" stroke="#66727A" stroke-width="1.9"/><path d="M2 10H8M21.8 10H27.8" stroke="#66727A" stroke-width="1.9" stroke-linecap="round"/></svg>
<span class="t b" style="left:189.3px;top:1599.4px;font-size:27.78px;color:#2E3438;letter-spacing:-0.12px;">Build 3</span>
<div class="a" style="left:290.0px;top:1610.9px;width:10.6px;height:10.6px;border-radius:50%;background:#73828C;"></div>
<span class="t" style="left:309.8px;top:1601.8px;font-size:24px;color:#73828C;letter-spacing:1.16px;">35xyzwf</span>
<span class="t" style="left:191.1px;top:1639.0px;font-size:28px;color:#5C6870;letter-spacing:0.06px;">Accepted by Tom Coleman with 1</span>
<span class="t" style="left:190.0px;top:1678.9px;font-size:28px;color:#5C6870;letter-spacing:0.37px;">comment.</span>
<div class="a" style="left:135.0px;top:1632.3px;width:2.0px;height:119.5px;background:#DCDFE1;"></div>
<div class="a" style="left:122.0px;top:1758.3px;width:28.0px;height:28.0px;border-radius:50%;background:#DFE4E7;"></div>
<svg class="a" style="left:126.0px;top:1766.0px;" width="20" height="14" viewBox="0 0 20 14" fill="none"><path d="M2.6 3.6L10 10.6L17.4 3.6" stroke="#5C6870" stroke-width="2" stroke-linecap="round" stroke-linejoin="round"/></svg>
<span class="t b" style="left:191.0px;top:1758.2px;font-size:28px;color:#5C6870;letter-spacing:-0.23px;">View more</span>
<div class="a" style="left:720.2px;top:966.5px;width:1724.4px;height:979.0px;border:2px solid #E0E6EA;border-radius:12px;background:#fff;"></div>
<div class="a" style="left:722.0px;top:1046.5px;width:1721.0px;height:2.0px;background:#E0E6EA;"></div>
<div class="a" style="left:722.0px;top:1128.0px;width:1721.0px;height:2.0px;background:#E0E6EA;"></div>
<div class="a" style="left:722.0px;top:1780.5px;width:1721.0px;height:2.0px;background:#E0E6EA;"></div>
<div class="a" style="left:722.0px;top:1862.5px;width:1721.0px;height:2.0px;background:#E0E6EA;"></div>
<span class="t b" style="left:751.6px;top:996.0px;font-size:26.94px;color:#73828C;letter-spacing:-0.62px;">Discussions</span>
<span class="t b" style="left:965.5px;top:995.3px;font-size:27.16px;color:#029CFD;letter-spacing:-0.43px;">Accessibility</span>
<div class="a" style="left:1140.2px;top:988.4px;width:53.6px;height:39.6px;border-radius:20px;background:#E3F3FF;border:1.5px solid #CDE9FB;"></div>
<span class="t b" style="left:1153.1px;top:996.7px;font-size:23px;color:#0271B6;letter-spacing:1.27px;">17</span>
<div class="a" style="left:935.7px;top:1042.0px;width:288.0px;height:6.0px;background:#029CFD;"></div>
<span class="t b" style="left:751.6px;top:1075.2px;font-size:27.51px;color:#2E3438;letter-spacing:-0.25px;">Invalid ARIA values</span>
<div class="a" style="left:2175.7px;top:1067.7px;width:126.4px;height:40.3px;border-radius:21px;background:#FF4400;"></div>
<span class="t b" style="left:2199.7px;top:1076.5px;font-size:23.69px;color:#fff;letter-spacing:-0.14px;">Critical</span>
<span class="t" style="left:2318.9px;top:1075.5px;font-size:28px;color:#C5460F;letter-spacing:3.20px;">+9</span>
<svg class="a" style="left:2392.0px;top:1081.5px;" width="20" height="13" viewBox="0 0 20 13" fill="none"><path d="M2.8 3L10 9.7L17.2 3" stroke="#79848C" stroke-width="2" stroke-linecap="round" stroke-linejoin="round"/></svg>
<span class="t b" style="left:751.4px;top:1157.2px;font-size:27.37px;color:#2E3438;letter-spacing:-0.42px;">Use a</span>
<div class="a" style="left:834.6px;top:1151.7px;width:78.8px;height:36.9px;border-radius:5px;background:#F7F9FA;border:1.5px solid #DDE3E7;"></div>
<span class="t m" style="left:846.2px;top:1158.5px;font-size:21.5px;color:#2E3438;letter-spacing:0.91px;">lang</span>
<span class="t b" style="left:922.1px;top:1156.9px;font-size:28px;color:#2E3438;letter-spacing:-0.04px;">attribute on the</span>
<div class="a" style="left:1134.2px;top:1151.7px;width:79.3px;height:36.9px;border-radius:5px;background:#F7F9FA;border:1.5px solid #DDE3E7;"></div>
<span class="t m" style="left:1145.4px;top:1158.5px;font-size:21.5px;color:#2E3438;letter-spacing:1.16px;">html</span>
<span class="t b" style="left:1221.5px;top:1156.9px;font-size:28px;color:#2E3438;letter-spacing:0.28px;">element.</span>
<span class="t" style="left:2303.1px;top:1156.9px;font-size:28px;color:#C5460F;letter-spacing:4.00px;">+1</span>
<svg class="a" style="left:2392.0px;top:1164.0px;" width="20" height="13" viewBox="0 0 20 13" fill="none"><path d="M2.8 10.2L10 3.2L17.2 10.2" stroke="#79848C" stroke-width="2" stroke-linecap="round" stroke-linejoin="round"/></svg>
<span class="t" style="left:751.5px;top:1216.9px;font-size:28px;color:#2E3438;letter-spacing:0.23px;">This is a summary of this type of violation.</span>
<span class="t" style="left:1284.1px;top:1216.9px;font-size:28px;color:#029CFD;letter-spacing:0.20px;">Learn how to resolve this violation »</span>
<div class="a" style="left:752.3px;top:1290.6px;width:814.4px;height:79.0px;border-radius:7px;background:#EDF7FE;"></div>
<span class="t m" style="left:775.1px;top:1318.4px;font-size:23px;color:#0B93EC;letter-spacing:1.19px;">1. &lt;html&gt;</span>
<div class="a" style="left:1597.0px;top:1290.6px;width:814.5px;height:83.2px;border:2px solid #DEE3E6;border-radius:12px;background:#fff;"></div>
<svg class="a" style="left:1627.0px;top:1320.0px;" width="32" height="26" viewBox="0 0 32 26" fill="none"><g stroke="#5C6870" stroke-width="2.2" stroke-linecap="round" stroke-linejoin="round"><path d="M8.5 6L2.5 13L8.5 20M23.5 6L29.5 13L23.5 20M19 2.5L13 23.5"/></g></svg>
<span class="t" style="left:1669.2px;top:1319.5px;font-size:28px;color:#5C6870;letter-spacing:0.13px;">This regression is non-visual. No preview will be shown.</span>
<svg class="a" style="left:1611.0px;top:1402.0px;" width="30" height="30" viewBox="0 0 30 30" fill="none"><g stroke="#73828C" stroke-width="2.2" stroke-linecap="round" fill="none"><path d="M12.5 9.5L17 5A5.6 5.6 0 0 1 25 13L20.5 17.5A5.6 5.6 0 0 1 13.5 18.3"/><path d="M17.5 20.5L13 25A5.6 5.6 0 0 1 5 17L9.5 12.5A5.6 5.6 0 0 1 16.5 11.7"/></g></svg>
<span class="t" style="left:2187.2px;top:1402.7px;font-size:28px;color:#029CFD;letter-spacing:0.13px;">Go to Storybook</span>
<span class="t" style="left:1596.5px;top:1503.4px;font-size:28px;color:#2E3438;letter-spacing:0.00px;">The element’s specific summary goes here.</span>
<span class="t m" style="left:1596.8px;top:1572.4px;font-size:23px;color:#73828C;letter-spacing:0.77px;">// Element</span>
<span class="t m" style="left:1597.1px;top:1607.9px;font-size:23px;color:#2E3438;letter-spacing:0.00px;">&lt;</span>
<span class="t m" style="left:1610.3px;top:1607.9px;font-size:23px;color:#C9365F;letter-spacing:1.35px;">html</span>
<span class="t m" style="left:1669.6px;top:1607.9px;font-size:23px;color:#2E3438;letter-spacing:0.00px;">&gt;</span>
<span class="t m" style="left:1596.8px;top:1674.9px;font-size:23px;color:#73828C;letter-spacing:0.69px;">// Selector</span>
<span class="t m" style="left:1596.1px;top:1710.2px;font-size:23px;color:#C9365F;letter-spacing:1.42px;">html</span>
<span class="t b" style="left:751.8px;top:1809.2px;font-size:27.39px;color:#2E3438;letter-spacing:-0.30px;">Links need discernable text</span>
<div class="a" style="left:2170.2px;top:1802.3px;width:132.0px;height:39.4px;border-radius:20px;background:#FFDDD2;border:1.5px solid #FBC7B6;"></div>
<span class="t b" style="left:2193.6px;top:1811.1px;font-size:23.41px;color:#C63D08;letter-spacing:-0.35px;">Serious</span>
<span class="t" style="left:2318.9px;top:1809.0px;font-size:28px;color:#C5460F;letter-spacing:3.26px;">+5</span>
<svg class="a" style="left:2392.0px;top:1816.0px;" width="20" height="13" viewBox="0 0 20 13" fill="none"><path d="M2.8 3L10 9.7L17.2 3" stroke="#79848C" stroke-width="2" stroke-linecap="round" stroke-linejoin="round"/></svg>
<span class="t" style="left:751.4px;top:1890.8px;font-size:28px;color:#5C6870;letter-spacing:0.03px;">Previously accepted rules are not shown.</span>
<span class="t" style="left:1267.5px;top:1890.8px;font-size:28px;color:#029CFD;letter-spacing:-0.02px;">Show 3 previously accepted rules and 1 ignored rule »</span>
</div>
</body></html>
